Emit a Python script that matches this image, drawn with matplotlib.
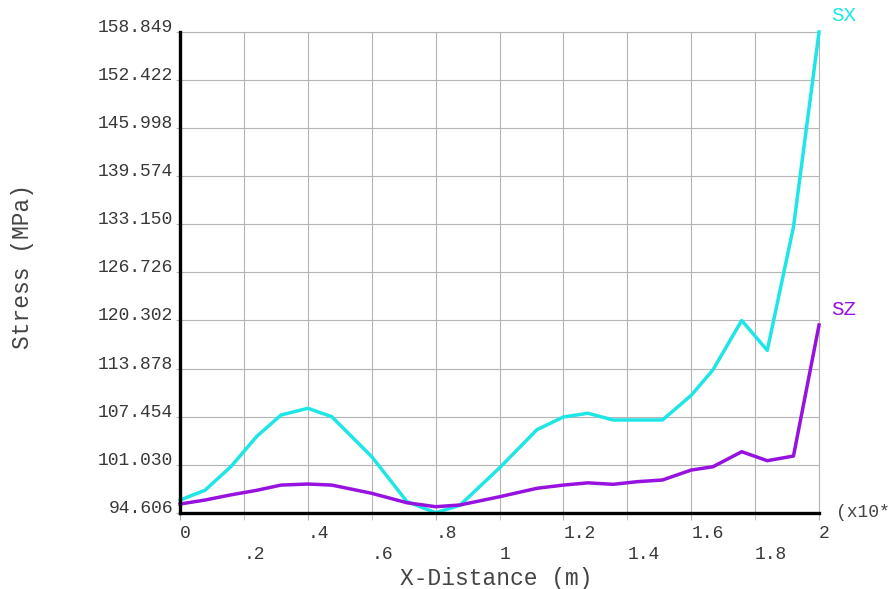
import matplotlib
matplotlib.use('Agg')
import matplotlib.pyplot as plt

# node positions along the path (m) and stresses (MPa)
x_dist = [0, 0.078, 0.16, 0.24, 0.316, 0.4, 0.475, 0.6, 0.71, 0.8, 0.876,
          1.0, 1.117, 1.2, 1.277, 1.355, 1.43, 1.51, 1.6, 1.668, 1.758,
          1.838, 1.92, 2.0]
sx = [96.3, 97.6, 100.8, 104.8, 107.66, 108.56, 107.44, 102.1, 96.1, 94.606,
      95.6, 100.6, 105.7, 107.4, 107.9, 107.0, 107.0, 107.0, 110.3, 113.7,
      120.3, 116.3, 132.8, 158.849]
sz = [95.77, 96.3, 97.0, 97.6, 98.3, 98.44, 98.3, 97.2, 95.94, 95.41,
      95.64, 96.74, 97.87, 98.3, 98.6, 98.4, 98.75, 98.98, 100.31, 100.75,
      102.76, 101.56, 102.18, 119.69]

y_ticks = [94.606, 101.030, 107.454, 113.878, 120.302, 126.726,
           133.150, 139.574, 145.998, 152.422, 158.849]
y_labels = ['94.606', '101.030', '107.454', '113.878', '120.302', '126.726',
            '133.150', '139.574', '145.998', '152.422', '158.849']
x_ticks_top = [0, 0.4, 0.8, 1.2, 1.6, 2.0]
x_labels_top = ['0', '.4', '.8', '1.2', '1.6', '2']
x_ticks_low = [0.2, 0.6, 1.0, 1.4, 1.8]
x_labels_low = ['.2', '.6', '1', '1.4', '1.8']

CYAN = '#1fe6e6'
PURPLE = '#9712df'
TXT = '#383838'
GRID = '#b4b4b4'

plt.rcParams['font.family'] = ['Liberation Mono', 'DejaVu Sans Mono']

fig = plt.figure(figsize=(8.89, 5.89), dpi=100)
ax = fig.add_axes([0.2025, 0.1295, 0.7188, 0.8162])

ax.plot(x_dist, sx, color=CYAN, linewidth=2.5, clip_on=False, zorder=3)
ax.plot(x_dist, sz, color=PURPLE, linewidth=2.5, clip_on=False, zorder=3)

ax.set_xlim(0, 2)
ax.set_ylim(94.606, 158.849)

ax.set_yticks(y_ticks, y_labels)
ax.set_xticks(x_ticks_top, x_labels_top)
ax.set_xticks(x_ticks_low, x_labels_low, minor=True)

ax.grid(True, which='both', color=GRID, linewidth=0.8)
ax.set_axisbelow(True)

for s in ['top', 'right']:
    ax.spines[s].set_color(GRID)
    ax.spines[s].set_linewidth(0.8)
for s in ['left', 'bottom']:
    ax.spines[s].set_color('black')
    ax.spines[s].set_linewidth(2.4)
    ax.spines[s].set_zorder(4)

ax.tick_params(axis='y', length=3, color=GRID, pad=2, labelsize=13, labelcolor=TXT)
ax.tick_params(axis='x', which='major', length=5, color=GRID, pad=4,
               labelsize=13, labelcolor=TXT)
ax.tick_params(axis='x', which='minor', length=5, color=GRID, pad=19,
               labelsize=13, labelcolor=TXT)
for lab in ax.get_yticklabels():
    lab.set_va('baseline')
for lab in ax.get_xticklabels() + ax.get_xticklabels(minor=True):
    lab.set_ha('left')

ax.set_xlabel('X-Distance (m)', fontsize=16.5, color='#444444')
ax.xaxis.set_label_coords(0.495, -0.136)
ax.xaxis.label.set_va('center')
ax.set_ylabel('Stress (MPa)', fontsize=16.5, color='#444444')
ax.yaxis.set_label_coords(-0.247, 0.513)
ax.yaxis.label.set_va('center')

# curve labels at the right end of each line
ax.annotate('SX', xy=(x_dist[-1], sx[-1]), xytext=(9, 12), textcoords='offset points',
            color=CYAN, fontsize=15, va='center', ha='left', annotation_clip=False)
ax.annotate('SZ', xy=(x_dist[-1], sz[-1]), xytext=(9, 11), textcoords='offset points',
            color=PURPLE, fontsize=15, va='center', ha='left', annotation_clip=False)
ax.text(1.0265, 0.0, '(x10*', transform=ax.transAxes, fontsize=13,
        color='#444444', va='center', ha='left')

plt.savefig('out.png', dpi=100)
